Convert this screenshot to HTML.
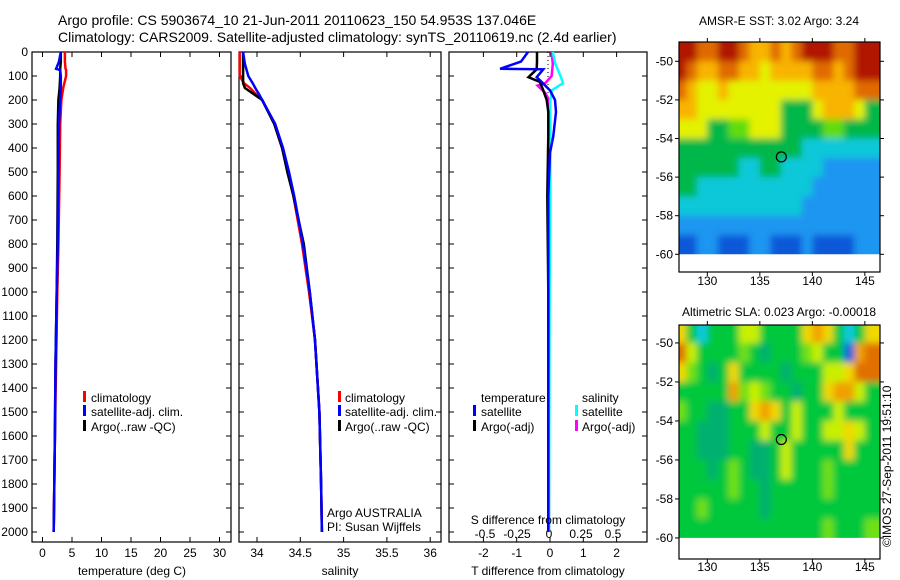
<!DOCTYPE html>
<html><head><meta charset="utf-8"><style>
html,body{margin:0;padding:0;background:#fff;}
svg{display:block;font-family:"Liberation Sans",sans-serif;}
text{fill:#000;}
</style></head><body>
<svg id="fig" width="900" height="580" viewBox="0 0 900 580" xmlns="http://www.w3.org/2000/svg">
<defs>
<filter id="soft" x="-5%" y="-5%" width="110%" height="110%"><feGaussianBlur stdDeviation="3.5"/></filter>
<clipPath id="clip-sst-map"><rect x="679" y="42" width="201" height="213"/></clipPath>
<clipPath id="clip-sla-map"><rect x="679" y="325" width="201" height="215"/></clipPath>
</defs>
<text x="58" y="25" font-size="14">Argo profile: CS 5903674_10 21-Jun-2011 20110623_150 54.953S 137.046E</text>
<text x="58" y="42" font-size="14">Climatology: CARS2009. Satellite-adjusted climatology: synTS_20110619.nc (2.4d earlier)</text>
<text x="779" y="25" font-size="12" text-anchor="middle">AMSR-E SST: 3.02  Argo: 3.24</text>
<text x="779" y="316" font-size="12" text-anchor="middle">Altimetric SLA: 0.023  Argo: -0.00018</text>
<text transform="translate(891,547) rotate(-90)" font-size="12">©IMOS 27-Sep-2011 19:51:10</text>
<g id="layer"></g>
</svg>
<script>
// ---- profile data ----
const depthT = [0,40,70,75,100,150,200,300,500,800,1000,1300,1600,2000];
const tempClim = [3.8,3.8,3.9,4.0,4.0,3.5,3.2,3.0,2.9,2.7,2.5,2.3,2.1,1.9];
const tempSat  = [3.1,2.8,2.3,3.0,3.1,3.1,3.0,2.8,2.7,2.6,2.4,2.2,2.1,1.9];
const tempArgo = [3.1,3.1,3.0,3.0,3.0,2.9,2.7,2.6,2.6,2.5,2.4,2.2,2.1,1.9];
const depthS = [0,50,100,130,150,180,200,300,400,500,600,700,800,1000,1200,1500,1800,2000];
const salClim = [33.80,33.80,33.80,33.85,33.92,34.00,34.06,34.20,34.29,34.36,34.42,34.47,34.52,34.60,34.67,34.72,34.74,34.75];
const salSat  = [33.84,33.86,33.90,33.95,33.98,34.03,34.06,34.21,34.30,34.37,34.43,34.48,34.53,34.61,34.67,34.72,34.74,34.75];
const salArgo = [33.84,33.84,33.84,33.84,33.86,33.98,34.06,34.20,34.29,34.35,34.42,34.48,34.54,34.61,34.67,34.72,34.74,34.75];
const depthD = [0,40,70,72,105,125,160,200,250,350,420,600,1000,2000];
const tdiffSat  = [-0.66,-0.87,-1.5,-0.2,-0.4,-0.25,0.0,0.15,0.18,0.1,0.0,-0.05,-0.05,-0.05];
const tdiffArgo = [-0.39,-0.39,-0.4,-0.4,-0.65,-0.3,-0.2,-0.1,-0.05,-0.05,-0.06,-0.08,-0.05,-0.05];
const depthSD = [0,50,100,130,140,160,170,200,300,600,1000,2000];
const sdiffSat  = [0.03,0.05,0.09,0.11,0.08,0.02,0.02,0.01,0.01,0.01,0.005,0.0];
const sdiffArgo = [0.02,0.03,0.02,-0.03,-0.09,-0.05,-0.03,0.0,0.0,0.0,0.0,0.0];
const depthTicks = [0,100,200,300,400,500,600,700,800,900,1000,1100,1200,1300,1400,1500,1600,1700,1800,1900,2000];
const tempTicks = [0,5,10,15,20,25,30];
const salTicks = [34,34.5,35,35.5,36];
const salTickLabels = ["34","34.5","35","35.5","36"];
const tdTicks = [-2,-1,0,1,2];
const sdTicks = [-0.5,-0.25,0,0.25,0.5];
const sdTickLabels = ["-0.5","-0.25","0","0.25","0.5"];
// ---- map data (colour class per 1-degree cell, rows north->south) ----
const mapLons = [127.5,128.5,129.5,130.5,131.5,132.5,133.5,134.5,135.5,136.5,137.5,138.5,139.5,140.5,141.5,142.5,143.5,144.5,145.5];
const mapLats = [-49.5,-50.5,-51.5,-52.5,-53.5,-54.5,-55.5,-56.5,-57.5,-58.5,-59.5];
const sstGrid = [
[8,8,7,7,8,8,7,6,6,7,6,7,8,8,8,7,7,8,8],
[8,7,6,6,7,7,6,6,5,6,6,6,6,7,7,6,7,8,8],
[7,6,5,5,6,5,5,5,5,5,5,5,5,6,6,6,6,7,7],
[6,6,5,5,5,5,5,5,5,5,3,3,3,5,6,6,6,5,3],
[5,5,5,3,3,4,4,5,5,5,3,3,3,3,4,4,3,3,3],
[3,3,3,3,3,3,3,3,3,3,3,3,2,2,2,2,2,2,2],
[3,3,3,3,3,3,2,2,3,3,2,2,2,2,1,1,1,1,1],
[3,3,2,2,2,2,2,2,2,2,2,2,2,1,1,1,1,1,1],
[2,2,2,2,2,2,2,2,2,2,2,2,1,1,1,1,1,1,1],
[1,1,1,1,1,1,1,1,1,1,1,1,1,1,1,1,1,1,1],
[0,0,1,1,0,0,0,1,1,0,0,0,1,0,0,0,0,1,1]];
const slaGrid = [
[6,3,1,3,3,3,5,5,3,3,3,3,6,7,6,3,1,3,6],
[8,5,3,3,3,3,4,3,2,3,3,3,4,5,3,3,0,7,8],
[6,4,3,2,3,6,3,3,3,3,2,3,3,3,5,5,6,8,8],
[3,3,3,3,3,7,4,5,4,3,3,2,3,3,6,7,7,5,3],
[4,3,3,2,2,3,3,6,7,6,3,5,3,3,3,5,3,3,3],
[3,3,2,2,2,3,3,3,5,3,3,5,3,3,5,5,6,5,3],
[3,3,2,2,2,3,3,2,2,3,5,3,3,3,3,3,6,3,3],
[3,3,3,2,3,4,3,2,2,3,5,3,3,3,4,3,3,3,3],
[3,3,3,3,3,4,3,3,2,3,3,3,3,3,4,3,3,3,3],
[3,3,4,3,3,3,3,3,2,3,3,3,3,3,3,3,3,3,3],
[3,3,3,3,3,3,3,3,3,3,3,3,3,3,4,3,3,3,4]];
const sstColors = ["#0a58d8","#1e96f0","#10c8d8","#00b848","#60dc10","#e4f200","#f8b400","#e06a00","#b01800"];
const slaColors = ["#1060e0","#10c8e0","#00b070","#00c83c","#70e018","#c8f000","#f0d800","#f0a000","#e07000"];
const mapLatTicks = [-50,-52,-54,-56,-58,-60];
const mapLonTicks = [130,135,140,145];
const argoLon = 137.046, argoLat = -54.953;

const NS="http://www.w3.org/2000/svg";
const L=document.getElementById('layer');
function mk(tag,attrs,parent){const e=document.createElementNS(NS,tag);for(const k in attrs)e.setAttribute(k,attrs[k]);(parent||L).appendChild(e);return e;}
function txt(s,x,y,anchor,size,name){const t=mk('text',{x:x,y:y,'text-anchor':anchor||'start','font-size':size||12});t.textContent=s;


return t;}

const Y0=52, PY=0.24;
const yD=d=>Y0+d*PY;
const BOT=542;
const xT=v=>42.5+v*5.9;
const xS=v=>257+(v-34)*86.6;
const xTD=v=>550+v*33.3;
const xSD=v=>549+v*128;

function frame(x0,x1,name){const r=mk('rect',{x:x0,y:Y0,width:x1-x0,height:BOT-Y0,fill:'none',stroke:'#000','stroke-width':1.2});

}
function depthTicksOn(x0,x1,labels){
  depthTicks.forEach(d=>{const y=yD(d);
    mk('line',{x1:x0,y1:y,x2:x0+5,y2:y,stroke:'#000'});
    mk('line',{x1:x1,y1:y,x2:x1-5,y2:y,stroke:'#000'});
    if(labels)txt(String(d),28,y+4,'end',12,'depth-tick-label');});
}
function xTicks(x0,vals,fx,labs,ly,name){
  vals.forEach((v,i)=>{const x=fx(v);
    mk('line',{x1:x,y1:BOT,x2:x,y2:BOT-5,stroke:'#000'});
    mk('line',{x1:x,y1:Y0,x2:x,y2:Y0+5,stroke:'#000'});
    txt(labs?labs[i]:String(v),x,ly,'middle',12,name);});
}
function line(xs,ds,fx,color,name,w){
  const pts=xs.map((v,i)=>fx(v).toFixed(1)+','+yD(ds[i]).toFixed(1)).join(' ');
  const p=mk('polyline',{points:pts,fill:'none',stroke:color,'stroke-width':w||2.5});
  
  
}
function legendBar(x,y,color){mk('rect',{x:x,y:y-10,width:3,height:11,fill:color});}

// Panel 1: temperature
frame(32,231,'temperature-panel');
depthTicksOn(32,231,true);
xTicks(32,tempTicks,xT,null,557,'temperature-tick-label');
line(tempClim,depthT,xT,'#ff0000','temp-climatology-line');
line(tempArgo,depthT,xT,'#000000','temp-argo-line');
line(tempSat,depthT,xT,'#0000ff','temp-satellite-line');
txt('temperature (deg C)',132,575,'middle',12,'temperature-axis-title');
legendBar(83,401,'#ff0000');txt('climatology',91,402,'start',12,'legend-climatology');
legendBar(83,415,'#0000ff');txt('satellite-adj. clim.',91,416,'start',12,'legend-satellite-adj');
legendBar(83,430,'#000000');txt('Argo(..raw -QC)',91,431,'start',12,'legend-argo');

// Panel 2: salinity
frame(239,441,'salinity-panel');
depthTicksOn(239,441,false);
xTicks(239,salTicks,xS,salTickLabels,557,'salinity-tick-label');
line(salClim,depthS,xS,'#ff0000','sal-climatology-line');
line(salArgo,depthS,xS,'#000000','sal-argo-line');
line(salSat,depthS,xS,'#0000ff','sal-satellite-line');
txt('salinity',340,575,'middle',12,'salinity-axis-title');
legendBar(338,401,'#ff0000');txt('climatology',345,402,'start',12,'legend2-climatology');
legendBar(338,415,'#0000ff');txt('satellite-adj. clim.',345,416,'start',12,'legend2-satellite-adj');
legendBar(338,430,'#000000');txt('Argo(..raw -QC)',345,431,'start',12,'legend2-argo');
txt('Argo AUSTRALIA',327,517,'start',12,'argo-australia-label');
txt('PI: Susan Wijffels',327,531,'start',12,'pi-label');

// Panel 3: differences
frame(449,647,'difference-panel');
depthTicksOn(449,647,false);
xTicks(449,tdTicks,xTD,null,557,'tdiff-tick-label');
sdTicks.forEach((v,i)=>txt(sdTickLabels[i],xSD(v),538,'middle',12,'sdiff-tick-label'));
mk('line',{x1:548,y1:Y0,x2:548,y2:yD(300),stroke:'#000','stroke-dasharray':'1,3'});
line(sdiffArgo,depthSD,xSD,'#ff00ff','sdiff-argo-line');
line(sdiffSat,depthSD,xSD,'#00ffff','sdiff-satellite-line');
line(tdiffArgo,depthD,xTD,'#000000','tdiff-argo-line');
line(tdiffSat,depthD,xTD,'#0000ff','tdiff-satellite-line');
txt('temperature',481,402,'start',12,'legend3-temperature-header');
txt('salinity',582,402,'start',12,'legend3-salinity-header');
legendBar(473,415,'#0000ff');txt('satellite',481,416,'start',12,'legend3-temp-satellite');
legendBar(473,430,'#000000');txt('Argo(-adj)',481,431,'start',12,'legend3-temp-argo');
legendBar(575,415,'#00ffff');txt('satellite',582,416,'start',12,'legend3-sal-satellite');
legendBar(575,430,'#ff00ff');txt('Argo(-adj)',582,431,'start',12,'legend3-sal-argo');
txt('S difference from climatology',548,524,'middle',12,'sdiff-axis-title');
txt('T difference from climatology',548,575,'middle',12,'tdiff-axis-title');

// Maps
function map(name,grid,colors,fy0,frameBot,latTop,latPx,labelY){
  const lonPx=10.5, lon0=127.3, x0=679, x1=880;
  const fx=lon=>x0+(lon-lon0)*lonPx;
  const fy=lat=>fy0+(latTop-lat)*latPx;
  const cr=document.querySelector('#clip-'+name+' rect');
  cr.setAttribute('height', (fy(-60)-fy0).toFixed(1));
  const clipG=mk('g',{'clip-path':'url(#clip-'+name+')'});
  const g=mk('g',{filter:'url(#soft)'},clipG);
  
  
  grid.forEach((row,r)=>row.forEach((c,j)=>{
    const lon=mapLons[j], lat=mapLats[r];
    let xa=fx(lon-0.5), xb=fx(lon+0.5), ya=fy(lat+0.5), yb=fy(lat-0.5);
    if(j===0)xa-=12; if(j===row.length-1)xb+=12; if(r===0)ya-=12; if(r===grid.length-1)yb+=12;
    const cell=mk('rect',{x:xa,y:ya,width:xb-xa+0.5,height:yb-ya+0.5,fill:colors[c]},g);
    
    
  }));
  const fr=mk('rect',{x:x0,y:fy0,width:x1-x0,height:frameBot-fy0,fill:'none',stroke:'#000','stroke-width':1.2});
  
  
  mapLatTicks.forEach(l=>{const y=fy(l);
    mk('line',{x1:x0,y1:y,x2:x0-4,y2:y,stroke:'#000'});
    mk('line',{x1:x1,y1:y,x2:x1+4,y2:y,stroke:'#000'});
    txt(String(l),673,y+4,'end',12,name+'-lat-label');});
  mapLonTicks.forEach(l=>{const x=fx(l);
    mk('line',{x1:x,y1:frameBot,x2:x,y2:frameBot+4,stroke:'#000'});
    mk('line',{x1:x,y1:fy0,x2:x,y2:fy0-4,stroke:'#000'});
    txt(String(l),x,labelY,'middle',12,name+'-lon-label');});
  const c=mk('circle',{cx:fx(argoLon),cy:fy(argoLat),r:5,fill:'none',stroke:'#000','stroke-width':1.2});
  
  
}
map('sst-map',sstGrid,sstColors,42,272,-49.0,19.3,285);
map('sla-map',slaGrid,slaColors,325,559,-49.08,19.5,571);
</script>
</body></html>
